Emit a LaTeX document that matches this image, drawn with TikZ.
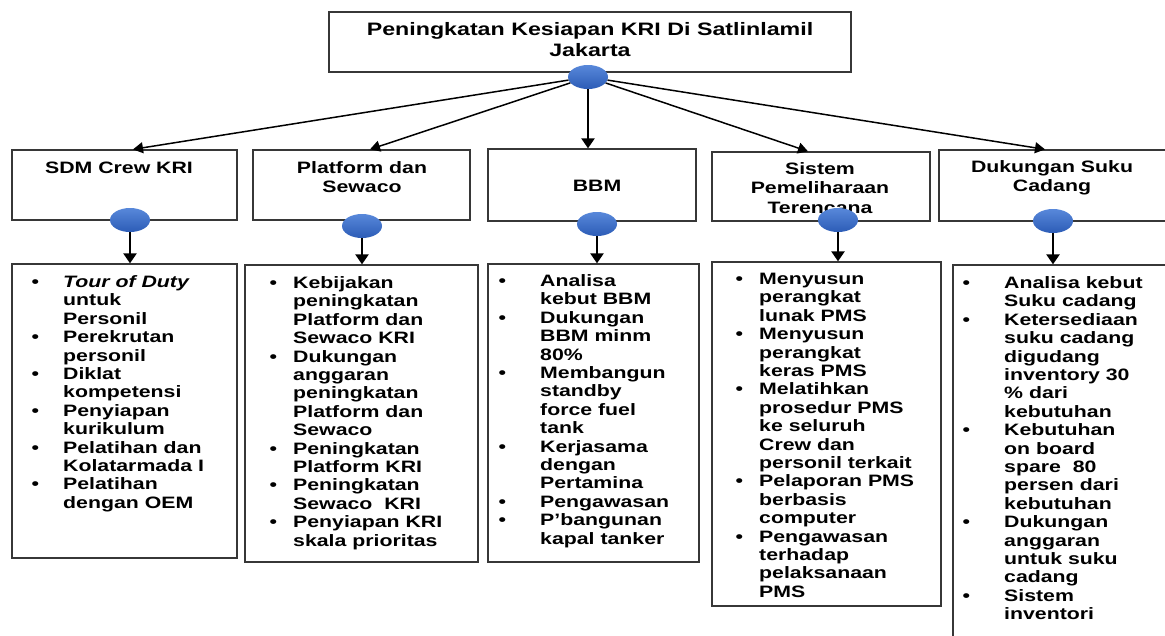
\documentclass[tikz,border=0pt]{standalone}
\usepackage{fontspec}
\setmainfont{Liberation Sans}[FakeStretch=1.29]
\usetikzlibrary{arrows.meta,shapes.geometric}
\definecolor{ballA}{RGB}{88,136,218}
\definecolor{ballB}{RGB}{44,92,182}
\definecolor{edgec}{RGB}{55,55,55}
\newcommand\bul[1]{\makebox[#1][l]{\textbullet}}
\begin{document}
\begin{tikzpicture}[x=1pt,y=-1pt,
  bx/.style={draw=edgec, line width=1.3pt, inner sep=0pt},
  ball/.style={ellipse, minimum width=40pt, minimum height=24pt, inner sep=0pt, top color=ballA, bottom color=ballB},
  conn/.style={line width=1.5pt, -{Triangle[length=10pt,width=11pt]}},
  vconn/.style={line width=2.4pt, -{Triangle[length=10pt,width=13pt]}},
  hd/.style={inner sep=0pt, anchor=base, font=\fontsize{16.5}{19.5}\selectfont\bfseries},
  lst/.style={inner sep=0pt, anchor=base west, font=\fontsize{16.5}{18.4}\selectfont\bfseries},
]
\fill[white] (0,0) rectangle (1165,635);
\path[use as bounding box] (0,0) rectangle (1165,635);

% top box
\node[bx, minimum width=522pt, minimum height=60pt, font=\fontsize{18}{21}\selectfont\bfseries] (top) at (590,42)
  {\begin{tabular}{@{}c@{}}Peningkatan Kesiapan KRI Di Satlinlamil\\Jakarta\end{tabular}};

% level-2 boxes
\node[bx, minimum width=225pt, minimum height=70pt] (sdm) at (124.5,185) {};
\node[bx, minimum width=217pt, minimum height=70pt] (plat) at (361.5,185) {};
\node[bx, minimum width=208pt, minimum height=72pt] (bbm) at (592,185) {};
\node[bx, minimum width=218pt, minimum height=69pt] (sis) at (821,186.5) {};
\node[bx, minimum width=236pt, minimum height=71pt] (duk) at (1057,185.5) {};

\node[hd] (sdmt) at (119,173) {SDM Crew KRI};
\node[hd] (platt) at (362,173) {\begin{tabular}[t]{@{}c@{}}Platform dan\\Sewaco\end{tabular}};
\node[hd] (bbmt) at (597,191) {BBM};
\node[hd] (sist) at (820,174) {\begin{tabular}[t]{@{}c@{}}Sistem\\Pemeliharaan\\Terencana\end{tabular}};
\node[hd] (dukt) at (1052,172) {\begin{tabular}[t]{@{}c@{}}Dukungan Suku\\Cadang\end{tabular}};

% list boxes
\node[bx, minimum width=225pt, minimum height=294pt] (l1) at (124.5,411) {};
\node[bx, minimum width=233pt, minimum height=297pt] (l2) at (361.5,413.5) {};
\node[bx, minimum width=211pt, minimum height=298pt] (l3) at (593.5,413) {};
\node[bx, minimum width=229pt, minimum height=344pt] (l4) at (826.5,434) {};
\node[bx, minimum width=222pt, minimum height=380pt] (l5) at (1064,455) {};

\node[lst] (t1) at (31.4,287.5) {\begin{tabular}[t]{@{}l@{}l@{}}
\bul{31.6pt} & \textit{Tour of Duty}\\ & untuk\\ & Personil\\
\bul{31.6pt} & Perekrutan\\ & personil\\
\bul{31.6pt} & Diklat\\ & kompetensi\\
\bul{31.6pt} & Penyiapan\\ & kurikulum\\
\bul{31.6pt} & Pelatihan dan\\ & Kolatarmada I\\
\bul{31.6pt} & Pelatihan\\ & dengan OEM
\end{tabular}};

\node[lst] (t2) at (269.4,288.5) {\begin{tabular}[t]{@{}l@{}l@{}}
\bul{23.6pt} & Kebijakan\\ & peningkatan\\ & Platform dan\\ & Sewaco KRI\\
\bul{23.6pt} & Dukungan\\ & anggaran\\ & peningkatan\\ & Platform dan\\ & Sewaco\\
\bul{23.6pt} & Peningkatan\\ & Platform KRI\\
\bul{23.6pt} & Peningkatan\\ & Sewaco\ \ KRI\\
\bul{23.6pt} & Penyiapan KRI\\ & skala prioritas
\end{tabular}};

\node[lst] (t3) at (498.4,286.5) {\begin{tabular}[t]{@{}l@{}l@{}}
\bul{41.6pt} & Analisa\\ & kebut BBM\\
\bul{41.6pt} & Dukungan\\ & BBM minm\\ & 80\%\\
\bul{41.6pt} & Membangun\\ & standby\\ & force fuel\\ & tank\\
\bul{41.6pt} & Kerjasama\\ & dengan\\ & Pertamina\\
\bul{41.6pt} & Pengawasan\\
\bul{41.6pt} & P'bangunan\\ & kapal tanker
\end{tabular}};

\node[lst] (t4) at (735.4,284.5) {\begin{tabular}[t]{@{}l@{}l@{}}
\bul{23.6pt} & Menyusun\\ & perangkat\\ & lunak PMS\\
\bul{23.6pt} & Menyusun\\ & perangkat\\ & keras PMS\\
\bul{23.6pt} & Melatihkan\\ & prosedur PMS\\ & ke seluruh\\ & Crew dan\\ & personil terkait\\
\bul{23.6pt} & Pelaporan PMS\\ & berbasis\\ & computer\\
\bul{23.6pt} & Pengawasan\\ & terhadap\\ & pelaksanaan\\ & PMS
\end{tabular}};

\node[lst] (t5) at (962.4,288.5) {\begin{tabular}[t]{@{}l@{}l@{}}
\bul{41.6pt} & Analisa kebut\\ & Suku cadang\\
\bul{41.6pt} & Ketersediaan\\ & suku cadang\\ & digudang\\ & inventory 30\\ & \% dari\\ & kebutuhan\\
\bul{41.6pt} & Kebutuhan\\ & on board\\ & spare\ \ 80\\ & persen dari\\ & kebutuhan\\
\bul{41.6pt} & Dukungan\\ & anggaran\\ & untuk suku\\ & cadang\\
\bul{41.6pt} & Sistem\\ & inventori
\end{tabular}};

% ellipses
\node[ball] (e0) at (588,77) {};
\node[ball] (e1) at (130,220) {};
\node[ball] (e2) at (362,226) {};
\node[ball] (e3) at (597,224) {};
\node[ball] (e4) at (838,220) {};
\node[ball] (e5) at (1053,221) {};

% connectors from top
\draw[conn] (e0) -- ([xshift=8.5pt]sdm.north);
\draw[conn] (e0) -- ([xshift=8.5pt]plat.north);
\draw[vconn] (e0.south) -- (e0.south |- bbm.north);
\draw[conn] (e0) -- ([xshift=-13pt]sis.north);
\draw[conn] (e0) -- ([xshift=-12pt]duk.north);

% connectors down
\draw[vconn] (e1.south) -- (e1.south |- l1.north);
\draw[vconn] (e2.south) -- (e2.south |- l2.north);
\draw[vconn] (e3.south) -- (e3.south |- l3.north);
\draw[vconn] (e4.south) -- (e4.south |- l4.north);
\draw[vconn] (e5.south) -- (e5.south |- l5.north);
\end{tikzpicture}
\end{document}
